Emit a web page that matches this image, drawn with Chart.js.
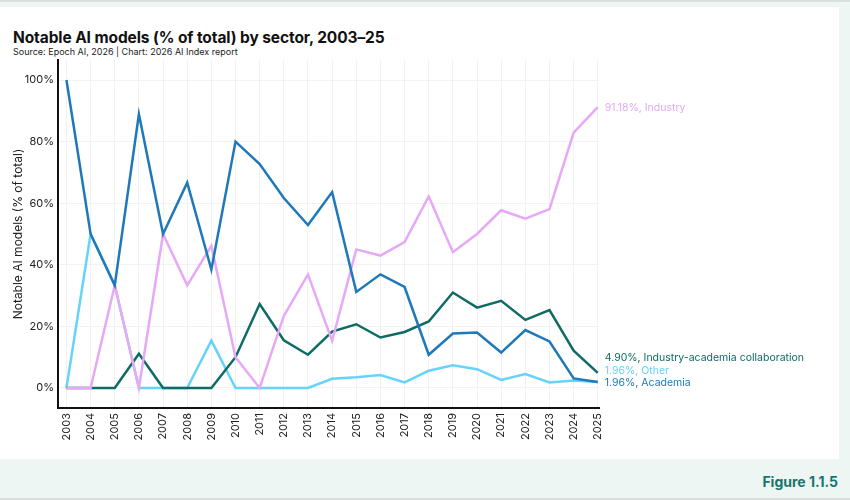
<!DOCTYPE html>
<html>
<head>
<meta charset="utf-8">
<script src="https://cdn.jsdelivr.net/npm/chart.js@4/dist/chart.umd.min.js"></script>
<style>
  body { margin: 0; background: #edf6f3; font-family: Inter, "DejaVu Sans", sans-serif; }
  #wrap { position: relative; width: 850px; height: 500px; overflow: hidden; }
  #topline { position: absolute; left: 0; top: 0; width: 850px; height: 2px; background: #d9e0de; }
  #botline { position: absolute; left: 0; top: 498px; width: 850px; height: 2px; background: #d9e0de; }
  #card { position: absolute; left: 0; top: 7px; width: 839px; height: 452px; background: #fff; }
  #title { position: absolute; left: 13px; top: 28px; font-size: 15.5px; font-weight: 700; color: #111; letter-spacing: -0.1px; }
  #sub { position: absolute; left: 13px; top: 46px; font-size: 9px; color: #222; }
  #fig { position: absolute; right: 12px; top: 473px; font-size: 14px; font-weight: 700; color: #17756d; }
  canvas { position: absolute; left: 0; top: 0; }
</style>
</head>
<body>
<div id="wrap">
  <div id="topline"></div>
  <div id="card"></div>
  <div id="title">Notable AI models (% of total) by sector, 2003–25</div>
  <div id="sub">Source: Epoch AI, 2026 | Chart: 2026 AI Index report</div>
  <div id="fig">Figure 1.1.5</div>
  <div id="botline"></div>
  <canvas id="sectorChart" width="850" height="500"></canvas>
</div>
<script>
const years = [2003, 2004, 2005, 2006, 2007, 2008, 2009, 2010, 2011, 2012, 2013, 2014,
  2015, 2016, 2017, 2018, 2019, 2020, 2021, 2022, 2023, 2024, 2025];
const academia = [100, 50, 33.33, 88.89, 50, 66.67, 38.46, 80, 72.73, 61.7, 52.9, 63.6,
  31.2, 36.9, 32.8, 10.8, 17.7, 18.0, 11.5, 18.8, 15.1, 3.1, 1.96];
const industry = [0, 0, 33.33, 0, 50, 33.33, 46.15, 10, 0, 23.4, 36.9, 15.3,
  45.0, 43.0, 47.4, 62.2, 44.1, 50.0, 57.7, 55.0, 58.1, 82.9, 91.18];
const collaboration = [0, 0, 0, 11.11, 0, 0, 0, 10, 27.27, 15.5, 10.8, 18.3,
  20.7, 16.4, 18.2, 21.6, 31.0, 26.1, 28.3, 22.1, 25.3, 12.1, 4.90];
const other = [0, 50, 33.33, 0, 0, 0, 15.38, 0, 0, 0, 0, 3.0,
  3.5, 4.2, 1.8, 5.6, 7.4, 6.1, 2.6, 4.5, 1.8, 2.4, 1.96];
const yTicks = [0, 20, 40, 60, 80, 100];

const toPoints = (vals) => vals.map((v, i) => ({ x: years[i], y: v }));

const endLabels = {
  id: "endLabels",
  afterDatasetsDraw(chart) {
    const { ctx } = chart;
    const items = chart.data.datasets.map((ds, i) => {
      const meta = chart.getDatasetMeta(i);
      const pt = meta.data[meta.data.length - 1];
      const v = ds.data[ds.data.length - 1].y;
      return { x: pt.x, y: pt.y, text: v.toFixed(2) + "%, " + ds.label, color: ds.borderColor };
    });
    // push labels apart, starting from the lowest one
    items.sort((a, b) => b.y - a.y);
    for (let i = 1; i < items.length; i++) {
      if (items[i - 1].y - items[i].y < 12.5) items[i].y = items[i - 1].y - 12.5;
    }
    ctx.save();
    ctx.font = "10.5px Inter, sans-serif";
    ctx.textBaseline = "middle";
    items.forEach((it) => {
      ctx.fillStyle = it.color;
      ctx.fillText(it.text, it.x + 7, it.y + 1);
    });
    ctx.restore();
  },
};

new Chart(document.getElementById("sectorChart").getContext("2d"), {
  type: "line",
  data: {
    datasets: [
      { label: "Academia", data: toPoints(academia), borderColor: "#1f78b8" },
      { label: "Industry", data: toPoints(industry), borderColor: "#e7a8f7" },
      { label: "Industry-academia collaboration", data: toPoints(collaboration), borderColor: "#0f6b65" },
      { label: "Other", data: toPoints(other), borderColor: "#66d3fb" },
    ],
  },
  options: {
    responsive: false,
    animation: false,
    layout: { padding: { top: 60, right: 251, left: 0, bottom: 0 } },
    elements: {
      line: { borderWidth: 2.5, tension: 0 },
      point: { radius: 0 },
    },
    plugins: { legend: { display: false }, tooltip: { enabled: false } },
    scales: {
      x: {
        type: "linear",
        min: 2002.65,
        max: 2025.05,
        afterBuildTicks: (s) => { s.ticks = years.map((y) => ({ value: y })); },
        afterFit: (s) => { s.height = 92; },
        grid: { color: "#f2f2f2", drawTicks: false },
        border: { color: "#111", width: 2 },
        ticks: {
          minRotation: 90,
          maxRotation: 90,
          autoSkip: false,
          padding: 5,
          color: "#222",
          font: { family: "Inter", size: 11 },
          callback: (v) => String(v),
        },
      },
      y: {
        min: -6.5,
        max: 106.5,
        afterBuildTicks: (s) => { s.ticks = yTicks.map((v) => ({ value: v })); },
        afterFit: (s) => { s.width = 58; },
        grid: { color: "#f2f2f2", drawTicks: false },
        border: { color: "#111", width: 2 },
        ticks: {
          padding: 4,
          color: "#222",
          font: { family: "Inter", size: 11 },
          callback: (v) => v + "%",
        },
        title: {
          display: true,
          text: "Notable AI models (% of total)",
          color: "#222",
          font: { family: "Inter", size: 12 },
          padding: { top: 11, bottom: 0 },
        },
      },
    },
  },
  plugins: [endLabels],
});
</script>
</body>
</html>
